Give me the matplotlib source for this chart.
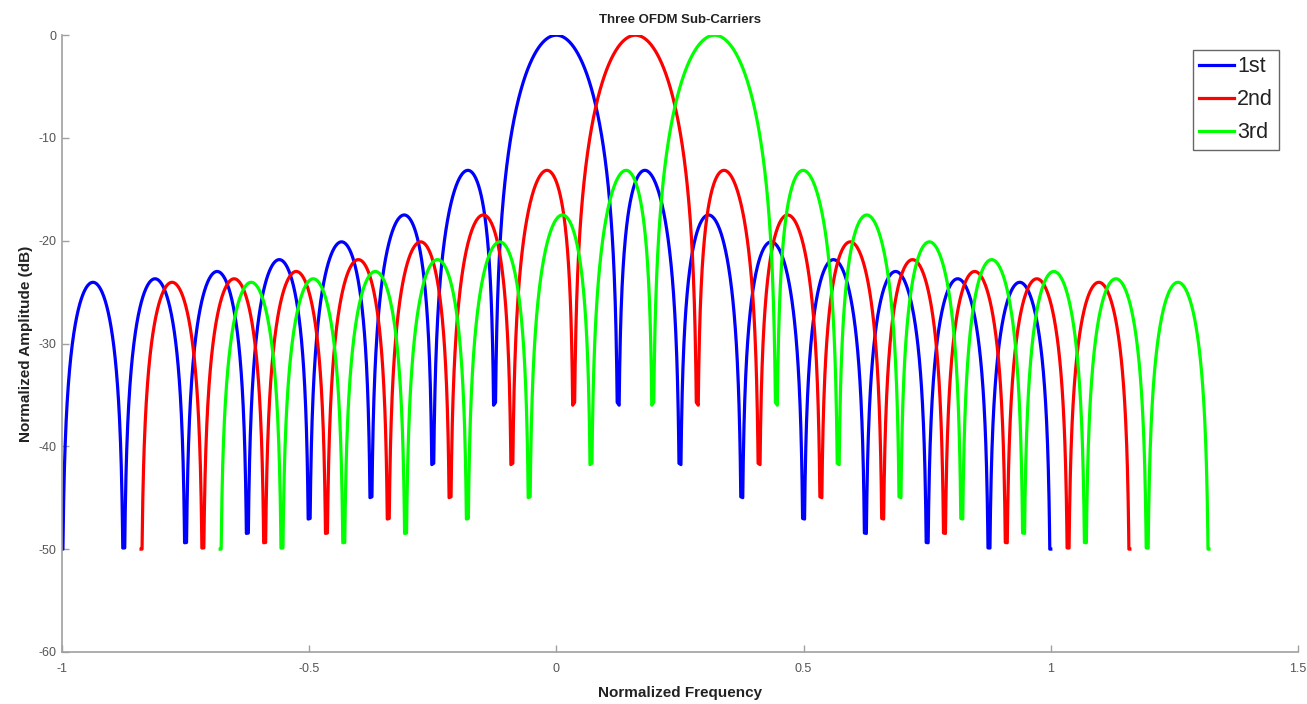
import numpy as np
import matplotlib
matplotlib.use("Agg")
import matplotlib.pyplot as plt

plt.rcParams["font.family"] = ["Liberation Sans", "DejaVu Sans"]
plt.rcParams["axes.unicode_minus"] = False

# values
carrier_names = ["1st", "2nd", "3rd"]
carrier_centers = [0.0, 0.16, 0.32]      # peak positions (normalized frequency)
carrier_colors = ["#0000ff", "#ff0000", "#00ff00"]
null_spacing = 0.125                      # distance between nulls
span = 1.0                                # each carrier drawn over center +/- span
floor_db = -50                            # curves clipped here
null_offset = 0.002                       # sampling offset at the nulls (sets null depth)

x_ticks = [-1, -0.5, 0, 0.5, 1, 1.5]
x_labels = ["-1", "-0.5", "0", "0.5", "1", "1.5"]
y_ticks = [-60, -50, -40, -30, -20, -10, 0]

# periodic sinc of a rectangular pulse, N = 2 / null_spacing samples
N = int(round(2 / null_spacing))
f = np.linspace(-span, span, 4001)
f[np.abs(f) < 1e-9] = 1e-9
half = np.sin(np.pi * f / 2)
mag = np.abs(np.sin(np.pi * N * f / 2) / (N * half))
db = 20 * np.log10(np.maximum(mag, 1e-12))
# nulls are only as deep as the sampling offset lets them be
null_db = 20 * np.log10(np.pi * null_offset / (2 * np.abs(half)))
db = np.where(np.abs(f) > null_spacing / 2, np.maximum(db, null_db), db)
db = np.maximum(db, floor_db)

fig = plt.figure(figsize=(13.07, 7.04), dpi=100)
ax = fig.add_axes([0.0474, 0.074, 0.9457, 0.876])

for name, c, col in zip(carrier_names, carrier_centers, carrier_colors):
    ax.plot(f + c, db, color=col, lw=2.3, label=name)

ax.set_xlim(-1, 1.5)
ax.set_ylim(-60, 0)
ax.set_xticks(x_ticks)
ax.set_xticklabels(x_labels)
ax.set_yticks(y_ticks)
ax.tick_params(direction="in", length=5, width=1, colors="#a0a0a0",
               labelcolor="#555555", labelsize=9)
ax.tick_params(axis="x", pad=8)
ax.tick_params(axis="y", pad=4)
for s in ["top", "right"]:
    ax.spines[s].set_visible(False)
for s in ["left", "bottom"]:
    ax.spines[s].set_color("#a0a0a0")
    ax.spines[s].set_linewidth(1.2)

ax.set_title("Three OFDM Sub-Carriers", fontsize=9.5, fontweight="bold",
             color="#222222", pad=9)
ax.set_xlabel("Normalized Frequency", fontsize=11, fontweight="bold",
              color="#222222", labelpad=8)
ax.set_ylabel("Normalized Amplitude (dB)", fontsize=11, fontweight="bold",
              color="#222222", labelpad=4)

leg = ax.legend(loc="upper right", bbox_to_anchor=(0.985, 0.976), fontsize=15.5,
                frameon=True, fancybox=False, handlelength=1.6,
                handletextpad=0.15, borderpad=0.3, labelspacing=0.55,
                borderaxespad=0)
leg.get_frame().set_edgecolor("#404040")
leg.get_frame().set_linewidth(1.0)
for t in leg.get_texts():
    t.set_color("#222222")

fig.savefig("out.png", dpi=100)
